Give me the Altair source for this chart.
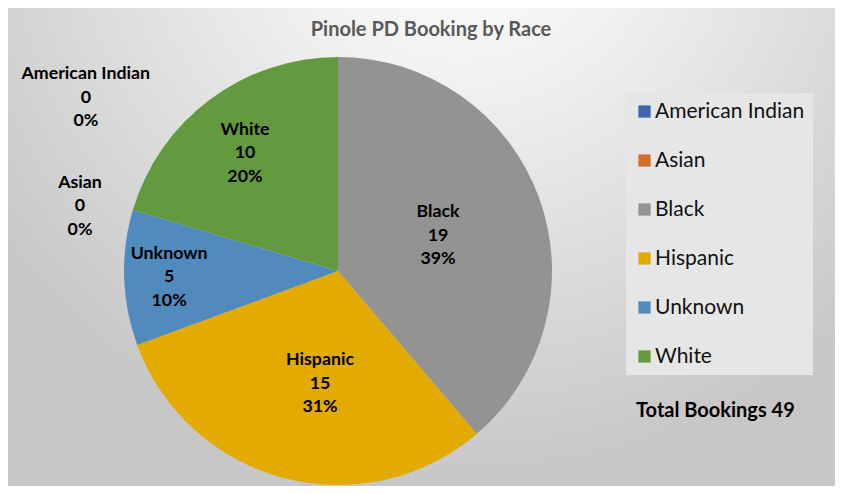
import altair as alt
import pandas as pd

# ---- data ----
races = ["American Indian", "Asian", "Black", "Hispanic", "Unknown", "White"]
bookings = [0, 0, 19, 15, 5, 10]
colors = ["#3C65AE", "#D36F2C", "#939393", "#E3AB00", "#518ABD", "#649A3F"]

# label placement (layout, not data): angle nudge in degrees and distance from centre
label_nudge_deg = [304.5, 284.1, 0.9, -5.6, -0.2, -1.6]
label_dist = [306, 266, 106, 114, 169, 150]

df = pd.DataFrame({
    "Race": races,
    "Bookings": bookings,
    "idx": list(range(len(races))),
    "nudge": label_nudge_deg,
    "dist": label_dist,
})

W, H = 827, 478
CX, CY, R = 330, 263, 214
FONT = "Lato"

bg = alt.Chart(pd.DataFrame({"a": [0]})).mark_rect(
    fill=alt.Gradient(
        gradient="radial",
        x1=0.55, y1=0.08, r1=0.0,
        x2=0.55, y2=0.08, r2=0.7,
        stops=[
            alt.GradientStop(color="#FFFFFF", offset=0),
            alt.GradientStop(color="#F2F2F2", offset=0.3),
            alt.GradientStop(color="#C7C7C7", offset=1),
        ],
    ),
    stroke=None,
).encode(
    x=alt.value(0), x2=alt.value(W), y=alt.value(0), y2=alt.value(H)
)

pie = alt.Chart(df).mark_arc(radius=R).encode(
    theta=alt.Theta("Bookings:Q", stack=True),
    order=alt.Order("idx:Q"),
    color=alt.Color(
        "Race:N",
        scale=alt.Scale(domain=races, range=colors),
        legend=alt.Legend(
            title=None,
            orient="none",
            legendX=618,
            legendY=85,
            direction="vertical",
            fillColor="#E6E6E6",
            padding=8,
            symbolType="square",
            symbolSize=150,
            symbolStrokeWidth=0,
            labelFont=FONT,
            labelFontSize=21,
            labelColor="#111111",
            labelOffset=0,
            labelLimit=300,
            rowPadding=27,
        ),
    ),
    x=alt.value(CX),
    y=alt.value(CY),
)

labels = alt.Chart(df).transform_window(
    cum="sum(Bookings)", sort=[alt.SortField("idx")], frame=[None, 0]
).transform_joinaggregate(
    total="sum(Bookings)"
).transform_calculate(
    ang="(datum.cum - datum.Bookings/2)/datum.total*2*PI + datum.nudge*PI/180",
    txt="datum.Race + '\\n' + datum.Bookings + '\\n' + format(datum.Bookings/datum.total, '.0%')",
).mark_text(
    font=FONT, fontSize=17.8, fontWeight="bold", color="#000000",
    lineBreak="\n", lineHeight=23.5, align="center", baseline="middle", dy=-23.5,
).encode(
    theta=alt.Theta("ang:Q", scale=None),
    radius=alt.Radius("dist:Q", scale=None),
    text="txt:N",
    x=alt.value(CX),
    y=alt.value(CY),
)

total = alt.Chart(df).transform_aggregate(
    total="sum(Bookings)"
).transform_calculate(
    t="'Total Bookings ' + datum.total"
).mark_text(
    font=FONT, fontSize=20, fontWeight="bold", color="#000000",
    align="left", baseline="middle",
).encode(text="t:N", x=alt.value(628), y=alt.value(403))

title = alt.Chart(pd.DataFrame({"t": ["Pinole PD Booking by Race"]})).mark_text(
    font=FONT, fontSize=20, fontWeight="bold", color="#595959",
    align="center", baseline="middle",
).encode(text="t:N", x=alt.value(423), y=alt.value(22))

chart = alt.layer(bg, pie, labels, total, title).properties(
    width=W, height=H, padding=0,
    autosize=alt.AutoSizeParams(type="none"),
).configure_view(stroke=None)

chart.save("out.html", embed_options={"renderer": "svg", "actions": False})
